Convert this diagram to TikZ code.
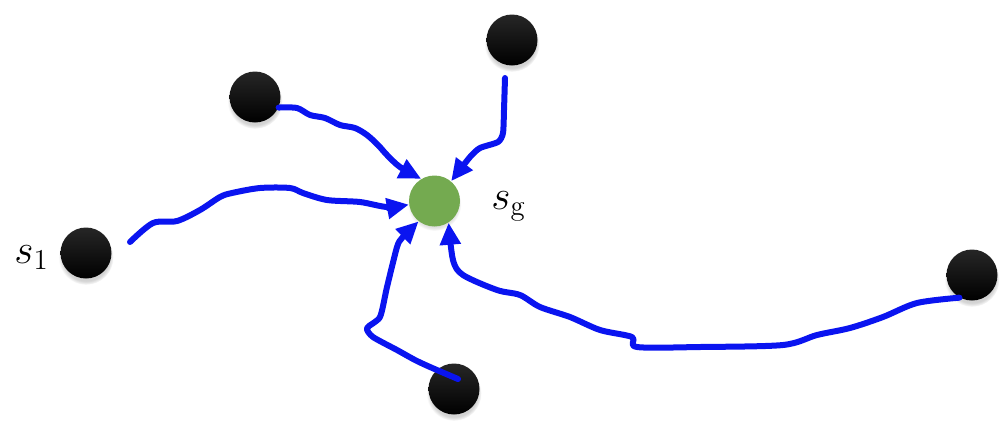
\documentclass[tikz,border=0pt]{standalone}
\usepackage{amsmath}
\usepackage{tikz}
\usetikzlibrary{calc,shadows,arrows.meta}

\definecolor{goalgreen}{RGB}{116,170,80}
\definecolor{walkblue}{RGB}{10,20,240}

\tikzset{
    ball/.style={circle, minimum size=25.5pt, inner sep=0pt,
        top color=black!85, middle color=black, bottom color=black,
        circular drop shadow={shadow xshift=0pt, shadow yshift=-2pt, shadow scale=1.08, opacity=0.35}},
    goalball/.style={circle, minimum size=25.5pt, inner sep=0pt, fill=goalgreen,
        circular drop shadow={shadow xshift=0pt, shadow yshift=-1.5pt, shadow scale=1.05, opacity=0.25}},
    walk/.style={walkblue, line width=3pt, line cap=round, line join=round,
        -{Triangle[length=11pt,width=10pt]}},
    statelabel/.style={inner sep=0pt, font=\fontsize{21}{25}\selectfont}
}

\begin{document}
\begin{tikzpicture}[x=0.5pt, y=-0.5pt]
    \useasboundingbox (0,0) rectangle (1008,430);

    % Start states and goal
    \node[ball] (s1) at (86,253) {};
    \node[ball] (tl) at (255,97) {};
    \node[ball] (top) at (512,40) {};
    \node[ball] (bot) at (454,389) {};
    \node[ball] (rt) at (972,275) {};
    \node[goalball] (goal) at (434.5,201) {};

    % Labels
    \node[statelabel, anchor=base west] (s1lab) at (14,263) {$s_1$};
    \node[statelabel, anchor=base west] (sglab) at (491,209) {$s_{\mathrm{g}}$};

    % Walks from s1
    \draw[walk] plot[smooth, tension=0.5] coordinates {($(s1)+(44,-11)$) (153,223) (177,221) (200,210)
        (220,197) (232,193) (260,188) (290,188) (303,193) (327,200) (360,202) (387,207) (goal.188)};

    % Walk from top left
    \draw[walk] plot[smooth, tension=0.5] coordinates {(tl.-24) (297,108) (310,115) (325,118) (340,125)
        (355,128) (367,135) (378,145) (387,155) (400,167) (goal.121)};

    % Walk from top
    \draw[walk] plot[smooth, tension=0.4] coordinates {($(top)+(-7,38)$) (504,110) (503,133) (498,142)
        (480,148) (470,157) (goal.50)};

    % Walk from bottom
    \draw[walk] plot[smooth, tension=0.4] coordinates {($(bot)+(4,-10)$) (430,367) (415,360) (397,350)
        (373,337) (367,328) (380,317) (387,287) (397,247) (402,238) (goal.232)};

    % Walk from right
    \draw[walk] plot[smooth, tension=0.5] coordinates {(rt.241) (917,303) (883,317) (850,328) (817,335)
        (783,345) (700,347) (637,347) (632,337) (600,330) (570,317) (540,307) (520,295) (497,290)
        (463,275) (453,260) (goal.-57)};
\end{tikzpicture}
\end{document}
